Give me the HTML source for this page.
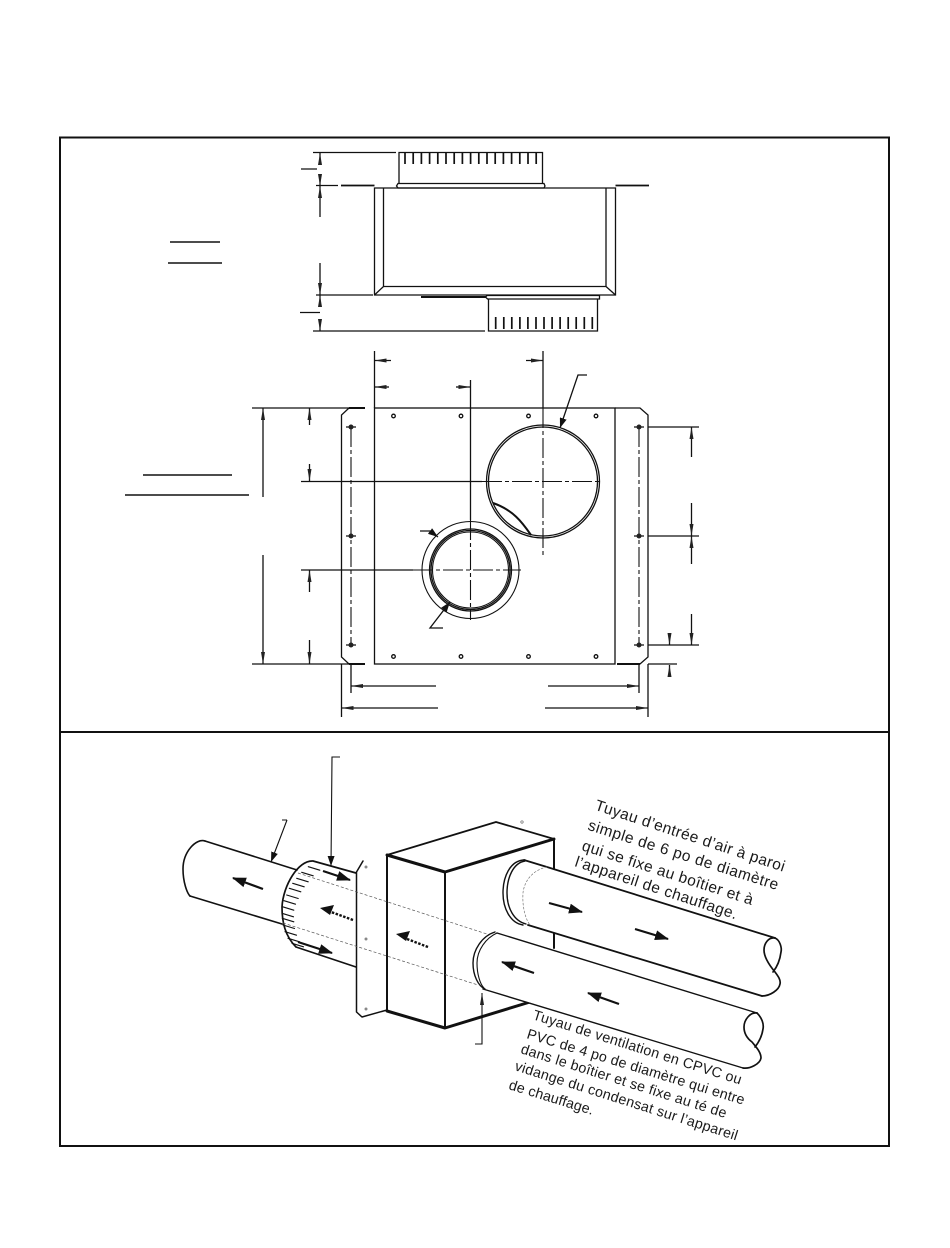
<!DOCTYPE html>
<html>
<head>
<meta charset="utf-8">
<style>
html,body{margin:0;padding:0;background:#fff;width:950px;height:1248px;overflow:hidden}
svg{display:block}
text{font-family:"Liberation Sans",sans-serif;font-size:15.5px;fill:#1a1a1a}
.s{font-size:14.3px}
</style>
</head>
<body>
<svg width="950" height="1248" viewBox="0 0 950 1248" xmlns="http://www.w3.org/2000/svg">
<defs>
<marker id="d" viewBox="0 0 12 4" refX="12" refY="2" markerWidth="12" markerHeight="4" markerUnits="userSpaceOnUse" orient="auto-start-reverse"><path d="M0 0L12 2L0 4z" fill="#222"/></marker>
<marker id="l" viewBox="0 0 10 7" refX="10" refY="3.5" markerWidth="10" markerHeight="7" markerUnits="userSpaceOnUse" orient="auto"><path d="M0 0L10 3.5L0 7z" fill="#111"/></marker>
<marker id="f" viewBox="0 0 14 10" refX="13" refY="5" markerWidth="14" markerHeight="10" markerUnits="userSpaceOnUse" orient="auto"><path d="M0 0L14 5L0 10z" fill="#111"/></marker>
</defs>
<rect x="60" y="137.5" width="829" height="1008.5" fill="#fff" stroke="#111" stroke-width="2"/>
<path d="M60 732H889" stroke="#111" stroke-width="2"/>

<!-- TOP VIEW -->
<g fill="none" stroke="#111" stroke-width="1.3">
<path d="M399 183.500V152.500H542.500V183.500"/>
<path d="M398 183.500H544L545 186L544 188H398L396.500 186Z"/>
<path d="M374.500 188H615.500V295H374.500Z"/>
<path d="M383.500 188V286.500H606V188M374.500 295L383.500 286.500M615.500 295L606 286.500"/>
<path d="M341 185.500H374.500M615.500 185.500H649" stroke-width="1.8"/>
<path d="M421 296.500H486M421 297.500H486" stroke-width="1"/>
<path d="M487 295.500H599.500V299H487.500L485.500 297Z"/>
<path d="M488.500 299V331H597.500V299"/>
<path d="M405 153V164M413.200 153V164M421.400 153V164M429.600 153V164M437.800 153V164M446 153V164M454.200 153V164M462.400 153V164M470.600 153V164M478.800 153V164M487 153V164M495.200 153V164M503.400 153V164M511.600 153V164M519.800 153V164M528 153V164M536.200 153V164" stroke-width="1.7"/>
<path d="M495.700 317V329M503.800 317V329M511.800 317V329M519.900 317V329M527.900 317V329M536 317V329M544 317V329M552.100 317V329M560.100 317V329M568.200 317V329M576.200 317V329M584.300 317V329M592.300 317V329" stroke-width="1.7"/>
<path d="M313 152.500H396M301 169H317M316 185.500H338M316 295H373M300 312.500H320M313 331H485"/>
<path d="M320 163V153" marker-end="url(#d)"/>
<path d="M320 174V186" marker-end="url(#d)"/>
<path d="M320 217V186" marker-end="url(#d)"/>
<path d="M320 263V295" marker-end="url(#d)"/>
<path d="M320 307V295" marker-end="url(#d)"/>
<path d="M320 319V331" marker-end="url(#d)"/>
</g>
<path d="M170 242H220M168 263H222M143 475H232M125 495H249" stroke="#111" stroke-width="1.6" fill="none"/>

<!-- FRONT VIEW -->
<g fill="none" stroke="#111" stroke-width="1.3">
<rect x="374.500" y="408" width="240.500" height="256"/>
<path d="M365 408H349L341.500 415V657L349 664H365M615 408H640L648 415V657L640 664H617"/>
<path d="M349 664H365M617 664H640M349 408H365" stroke-width="2"/>
<path d="M374.500 351V408"/>
<path d="M252 408H365M252 664H365"/>
<path d="M301 481.500H482"/>
<path d="M301 570H413"/>
<path d="M543 351V408" />
<path d="M470.500 380V520"/>
<circle cx="543" cy="481.500" r="56.500" stroke-width="1.3"/>
<circle cx="543" cy="481.500" r="54.500" stroke-width="1.3"/>
<path d="M493 503C513 510 522 522 531 535" stroke-width="2"/>
<circle cx="470.500" cy="570" r="48.500" stroke-width="1.1"/>
<circle cx="470.500" cy="570" r="41" stroke-width="1.3"/>
<circle cx="470.500" cy="570" r="39.500" stroke-width="1.3"/>
<circle cx="470.500" cy="570" r="38" stroke-width="1.1"/>
<path d="M482 481.500H600M543 408V555M413 570H521M470.500 520V620M351 427V645M639 427V645" stroke-dasharray="20 3 4 3" stroke-width="1.1"/>
<circle cx="393.500" cy="416" r="1.800"/><circle cx="461" cy="416" r="1.800"/><circle cx="528.500" cy="416" r="1.800"/><circle cx="596" cy="416" r="1.800"/>
<circle cx="393.500" cy="656.500" r="1.800"/><circle cx="461" cy="656.500" r="1.800"/><circle cx="528.500" cy="656.500" r="1.800"/><circle cx="596" cy="656.500" r="1.800"/>
<path d="M648 427H699M648 536H699M648 645H699M648 664H677"/>
<path d="M346 427H356M346 536H356M346 645H356M634 427H644M634 536H644M634 645H644"/>
<path d="M351 664V693M639 664V693M341.500 664V717M648 664V717"/>
<path d="M263 497V408" marker-end="url(#d)"/>
<path d="M263 555V664" marker-end="url(#d)"/>
<path d="M309.500 425V408" marker-end="url(#d)"/>
<path d="M309.500 464V481" marker-end="url(#d)"/>
<path d="M309.500 592V570" marker-end="url(#d)"/>
<path d="M309.500 640V664" marker-end="url(#d)"/>
<path d="M691.500 457V427" marker-end="url(#d)"/>
<path d="M691.500 503V536" marker-end="url(#d)"/>
<path d="M691.500 564V536" marker-end="url(#d)"/>
<path d="M691.500 614V645" marker-end="url(#d)"/>
<path d="M669.500 634V645" marker-end="url(#d)"/>
<path d="M669.500 677V665" marker-end="url(#d)"/>
<path d="M391 360.500H374.500" marker-end="url(#d)"/>
<path d="M526 360.500H543" marker-end="url(#d)"/>
<path d="M389 387H374.500" marker-end="url(#d)"/>
<path d="M456 387H470.500" marker-end="url(#d)"/>
<path d="M436 686H351" marker-end="url(#d)"/>
<path d="M548 686H639" marker-end="url(#d)"/>
<path d="M438 708H341.500" marker-end="url(#d)"/>
<path d="M545 708H648" marker-end="url(#d)"/>
<path d="M587 375H578L560 428" marker-end="url(#l)"/>
<path d="M420 531H430L438 537" marker-end="url(#l)"/>
<path d="M443 628H430L450 602" marker-end="url(#l)"/>
</g>
<g fill="#222"><circle cx="351" cy="427" r="2.500"/><circle cx="351" cy="536" r="2.500"/><circle cx="351" cy="645" r="2.500"/><circle cx="639" cy="427" r="2.500"/><circle cx="639" cy="536" r="2.500"/><circle cx="639" cy="645" r="2.500"/></g>

<!-- 3D VIEW -->
<g fill="none" stroke="#111" stroke-width="1.5" stroke-linejoin="round" stroke-linecap="round">
<path d="M205 841L297 870M190 896L282 924" stroke-width="1.6"/>
<path d="M205 841C196 838 183 852 183 869C183 882 187 893 190 896" stroke-width="1.6"/>
<path d="M296 947C285 936 282 922 282 907C283 886 298 860 313 861L356 873M296 947L356 967" stroke-width="1.7"/>
<path d="M308.300 866.700l11.500 3.500M301.700 872.300l11.500 3.500M296.700 878.300l11.500 3.500M292.700 883.300l11.500 3.500M289.300 888.300l11.500 3.500M286.700 895l11.500 3.500M284 900.700l11.500 3.500M282.300 906.700l11.500 3.500M282 913.300l11.500 3.500M282.300 918.300l11.500 3.500M283 925l11.500 3.500M285 931.700l11.500 3.500M288 938.300l11.500 3.500M292 943.300l11.500 3.500" stroke-width="1.1"/>
<path d="M363 861L356.500 872V1012L362 1017L387 1010" stroke-width="1.5"/>
<path d="M387 855L496 822L554 839" stroke-width="1.7"/>
<path d="M387 855L445 872L554 839" stroke-width="3"/>
<path d="M387 855V1011M445 872V1028M554 839V948" stroke-width="2"/>
<path d="M387 1011L445 1028L530 1002" stroke-width="3"/>
</g>
<path d="M298 873L490 935M283 923L478 985" stroke="#555" stroke-width=".7" stroke-dasharray="3 2" fill="none"/>
<g fill="#888"><circle cx="366" cy="867" r="1.500"/><circle cx="366" cy="939" r="1.500"/><circle cx="366" cy="1009" r="1.500"/></g>
<circle cx="522" cy="822" r="1.200" fill="none" stroke="#666" stroke-width=".7"/>

<!-- upper pipe -->
<path d="M523 860C510 862 503 878 503 893C503 910 512 925 530 925L762 996C770 995 782 992 780 983C777 973 768 964 764 950C766 942 770 939 775 938L547 867C540 864 530 860 523 860Z" fill="#fff" stroke="none"/>
<g fill="none" stroke="#111" stroke-width="1.5" stroke-linejoin="round" stroke-linecap="round">
<path d="M525 860C510 860 503 877 503 893C503 908 510 923 523 925" stroke-width="1.4"/>
<path d="M525 861C513 863 507 878 507 893C507 908 514 921 526 924" stroke-width="1.4"/>
<path d="M524 860L547 867L775 938M528 925L762 996" stroke-width="1.8"/>
<path d="M547 867C532 870 524 882 523 893C522 908 526 920 530 925" stroke="#777" stroke-width=".7" stroke-dasharray="2 2"/>
<path d="M775 938C768 937 764 944 764 950C764 958 770 966 775 972C778 976 781 980 780 984C779 990 770 996 762 996" stroke-width="1.7"/>
<path d="M775 938C780 940 782 948 781 952C780 960 777 967 773 972" stroke-width="1.7"/>
</g>
<!-- lower pipe -->
<path d="M495 932C482 936 473 950 473 963C473 975 478 986 485 989L743 1068C750 1068 762 1064 761 1058C760 1050 745 1035 744 1027C744 1020 750 1013 757 1013L497 933Z" fill="#fff" stroke="none"/>
<g fill="none" stroke="#111" stroke-width="1.5" stroke-linejoin="round" stroke-linecap="round">
<path d="M495 932C482 936 473 950 473 963C473 975 478 986 485 989" stroke-width="1.4"/>
<path d="M497 933C486 938 477 950 477 963C477 974 480 984 484 988" stroke-width="1.1"/>
<path d="M497 933L757 1013M483 989L743 1068" stroke-width="1.4"/>
<path d="M757 1013C750 1012 744 1020 744 1027C744 1034 748 1039 752 1042C756 1047 761 1052 761 1058C760 1064 750 1069 743 1068" stroke-width="1.7"/>
<path d="M757 1013C762 1018 764 1024 763 1029C762 1036 759 1042 755 1047" stroke-width="1.7"/>
</g>

<!-- flow arrows & leaders -->
<g fill="none" stroke="#111" stroke-width="2.200">
<path d="M263 889L233 878" marker-end="url(#f)"/>
<path d="M323 871L350 880" marker-end="url(#f)"/>
<path d="M298 942L332 953" marker-end="url(#f)"/>
<path d="M549 903L582 912" marker-end="url(#f)"/>
<path d="M635 929L668 939" marker-end="url(#f)"/>
<path d="M534 973L502 962" marker-end="url(#f)"/>
<path d="M619 1004L588 993" marker-end="url(#f)"/>
<path d="M353 920L331 912" stroke-dasharray="2.500 1.500" stroke-width="2.400"/>
<path d="M428 947L407 939" stroke-dasharray="2.500 1.500" stroke-width="2.400"/>
</g>
<path d="M320 908L334 905L330 915Z" fill="#111"/>
<path d="M396 934L410 931L406 941Z" fill="#111"/>
<g fill="none" stroke="#111" stroke-width="1.1">
<path d="M287 820H282M287 820L271 862" marker-end="url(#l)"/>
<path d="M340 757H332L331 866" marker-end="url(#l)"/>
<path d="M475 1044H482V993" marker-end="url(#d)"/>
</g>

<!-- labels -->
<text transform="translate(594,809.500) rotate(18.200)" textLength="199" lengthAdjust="spacing">Tuyau d’entrée d’air à paroi</text>
<text transform="translate(587,829.500) rotate(17.700)" textLength="199" lengthAdjust="spacing">simple de 6 po de diamètre</text>
<text transform="translate(581,850) rotate(17.900)" textLength="179" lengthAdjust="spacing">qui se fixe au boîtier et à</text>
<text transform="translate(574,866) rotate(18.300)" textLength="170" lengthAdjust="spacing">l’appareil de chauffage.</text>
<text class="s" transform="translate(532,1019) rotate(17.500)" textLength="218" lengthAdjust="spacing">Tuyau de ventilation en CPVC ou</text>
<text class="s" transform="translate(526,1038) rotate(17.100)" textLength="227" lengthAdjust="spacing">PVC de 4 po de diamètre qui entre</text>
<text class="s" transform="translate(520,1053) rotate(17.600)" textLength="215" lengthAdjust="spacing">dans le boîtier et se fixe au té de</text>
<text class="s" transform="translate(514,1070) rotate(17.600)" textLength="233" lengthAdjust="spacing">vidange du condensat sur l’appareil</text>
<text class="s" transform="translate(508,1089) rotate(17.100)" textLength="88" lengthAdjust="spacing">de chauffage.</text>
</svg>
</body>
</html>
